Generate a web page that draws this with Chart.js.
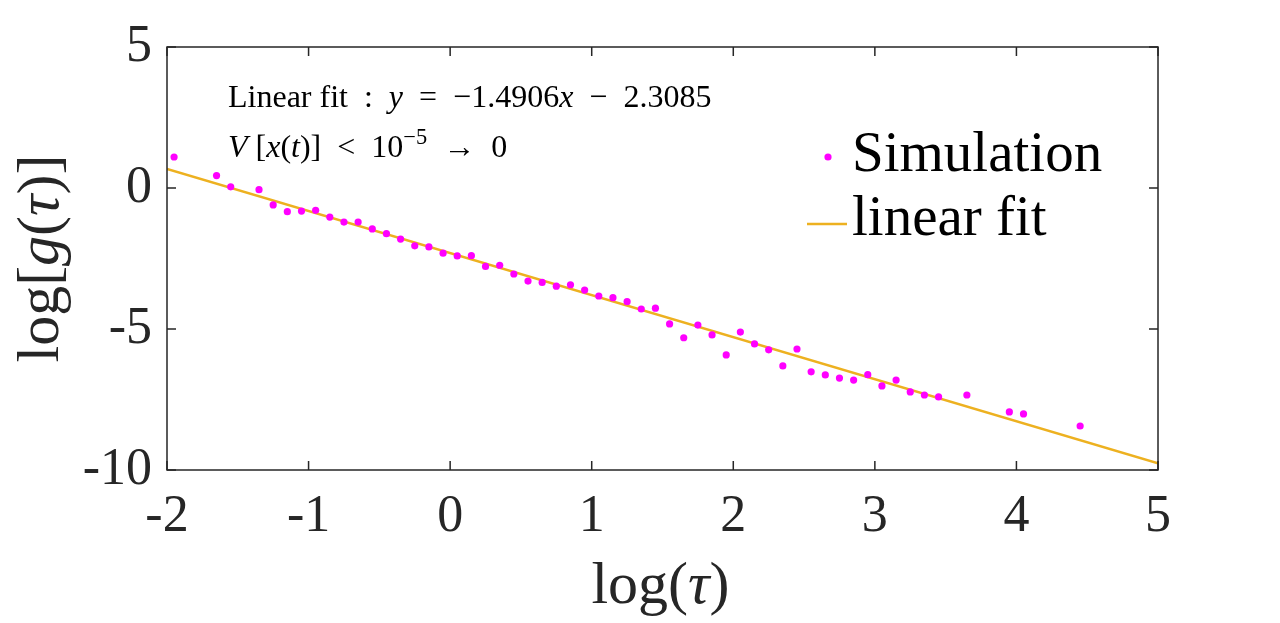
<!DOCTYPE html>
<html>
<head>
<meta charset="utf-8">
<script src="https://cdn.jsdelivr.net/npm/chart.js@4.4.1/dist/chart.umd.min.js"></script>
<style>
html,body{margin:0;padding:0;background:#fff;}
#wrap{width:1280px;height:623px;position:relative;}
</style>
</head>
<body>
<div id="wrap"><canvas id="c" width="1280" height="623"></canvas></div>
<script>
// ---- data ----
const simX = [-1.95,-1.65,-1.55,-1.35,-1.25,-1.15,-1.05,-0.95,-0.85,-0.75,-0.65,-0.55,-0.45,-0.35,-0.25,-0.15,-0.05,0.05,0.15,0.25,0.35,0.45,0.55,0.65,0.75,0.85,0.95,1.05,1.15,1.25,1.35,1.45,1.55,1.65,1.75,1.85,1.95,2.05,2.15,2.25,2.35,2.45,2.55,2.65,2.75,2.85,2.95,3.05,3.15,3.25,3.35,3.45,3.65,3.95,4.05,4.45];
const simY = [1.10,0.44,0.04,-0.06,-0.60,-0.84,-0.82,-0.79,-1.03,-1.21,-1.21,-1.45,-1.62,-1.81,-2.05,-2.09,-2.31,-2.41,-2.40,-2.78,-2.74,-3.05,-3.30,-3.35,-3.48,-3.43,-3.62,-3.83,-3.89,-4.03,-4.29,-4.26,-4.82,-5.31,-4.86,-5.21,-5.92,-5.11,-5.53,-5.74,-6.31,-5.71,-6.52,-6.63,-6.74,-6.81,-6.62,-7.02,-6.81,-7.23,-7.34,-7.41,-7.34,-7.94,-8.01,-8.44];
const fitX = [-2, 5];
const fitY = [0.673, -9.762];
const xTicks = [-2,-1,0,1,2,3,4,5];
const yTicks = [5,0,-5,-10];
const seriesLabels = ['Simulation','linear fit'];

const FONT = '"Liberation Serif","DejaVu Serif",serif';
const MAG = '#ff00ff';
const ORG = '#edb120';

function drawRich(ctx, segs, x, y, size, align){
  let w = 0;
  const parts = segs.map(([t,s])=>{
    const sz = s==='s' ? size*0.7 : size;
    const f = (s==='i'?'italic ':'') + sz + 'px ' + FONT;
    ctx.font = f;
    const m = ctx.measureText(t).width;
    w += m;
    return {t,s,f,m};
  });
  let cx = align==='center' ? x - w/2 : x;
  ctx.textBaseline = 'alphabetic';
  ctx.textAlign = 'left';
  for (const p of parts){
    ctx.font = p.f;
    ctx.fillText(p.t, cx, p.s==='s' ? y - size*0.42 : y);
    cx += p.m;
  }
}

const decor = {
  id:'decor',
  afterDraw(chart){
    const ctx = chart.ctx, a = chart.chartArea;
    const xs = chart.scales.x, ys = chart.scales.y;
    ctx.save();
    ctx.strokeStyle = '#262626';
    ctx.lineWidth = 1.5;
    ctx.strokeRect(a.left, a.top, a.right-a.left, a.bottom-a.top);
    ctx.beginPath();
    const tl = 9;
    xTicks.forEach(v=>{
      const px = xs.getPixelForValue(v);
      ctx.moveTo(px, a.bottom); ctx.lineTo(px, a.bottom - tl);
      ctx.moveTo(px, a.top); ctx.lineTo(px, a.top + tl);
    });
    yTicks.forEach(v=>{
      const py = ys.getPixelForValue(v);
      ctx.moveTo(a.left, py); ctx.lineTo(a.left + tl, py);
      ctx.moveTo(a.right, py); ctx.lineTo(a.right - tl, py);
    });
    ctx.stroke();

    ctx.fillStyle = '#262626';
    drawRich(ctx, [['log(','r'],['τ','i'],[')','r']], (a.left+a.right)/2 - 2, 603, 60, 'center');
    ctx.save();
    ctx.translate(58, (a.top+a.bottom)/2);
    ctx.rotate(-Math.PI/2);
    drawRich(ctx, [['log[','r'],['g','i'],['(','r'],['τ','i'],[')]','r']], 0, 0, 60, 'center');
    ctx.restore();

    ctx.fillStyle = '#000';
    drawRich(ctx, [['Linear fit  :  ','r'],['y','i'],['  =  −1.4906','r'],['x','i'],['  −  2.3085','r']], 228, 107, 32, 'left');
    drawRich(ctx, [['V','i'],[' [','r'],['x','i'],['(','r'],['t','i'],[')]  <  10','r'],['−5','s'],['  →  0','r']], 228, 157, 32, 'left');

    ctx.fillStyle = MAG;
    ctx.beginPath(); ctx.arc(828, 157, 3.6, 0, Math.PI*2); ctx.fill();
    ctx.strokeStyle = ORG; ctx.lineWidth = 2.5;
    ctx.beginPath(); ctx.moveTo(807, 224); ctx.lineTo(847, 224); ctx.stroke();
    ctx.fillStyle = '#000';
    drawRich(ctx, [[chart.data.datasets[0].label,'r']], 852, 171, 57, 'left');
    drawRich(ctx, [[chart.data.datasets[1].label,'r']], 852, 235, 57, 'left');
    ctx.restore();
  }
};

new Chart(document.getElementById('c'), {
  type:'scatter',
  data:{
    datasets:[
      {label:seriesLabels[0], data: simX.map((x,i)=>({x, y:simY[i]})), showLine:false,
       pointRadius:3.6, pointHoverRadius:3.6, backgroundColor:MAG, borderWidth:0, order:1},
      {label:seriesLabels[1], data: fitX.map((x,i)=>({x, y:fitY[i]})), showLine:true,
       borderColor:ORG, borderWidth:2.5, pointRadius:0, fill:false, order:2}
    ]
  },
  options:{
    responsive:false, animation:false, devicePixelRatio:1,
    layout:{padding:{top:47, right:122, left:0, bottom:0}},
    plugins:{legend:{display:false}, tooltip:{enabled:false}},
    scales:{
      x:{type:'linear', min:-2, max:5,
         grid:{display:false, drawTicks:false}, border:{display:false},
         afterBuildTicks(s){ s.ticks = xTicks.map(v=>({value:v})); },
         afterFit(s){ s.height = 153; },
         ticks:{color:'#262626', padding:16, font:{family:FONT, size:52}, maxRotation:0, autoSkip:false,
                callback:v=>String(v)}},
      y:{type:'linear', min:-10, max:5,
         grid:{display:false, drawTicks:false}, border:{display:false},
         afterBuildTicks(s){ s.ticks = yTicks.map(v=>({value:v})); },
         afterFit(s){ s.width = 167; },
         ticks:{color:'#262626', padding:15, font:{family:FONT, size:52}, autoSkip:false,
                callback:v=>String(v)}}
    }
  },
  plugins:[decor]
});
</script>
</body>
</html>
